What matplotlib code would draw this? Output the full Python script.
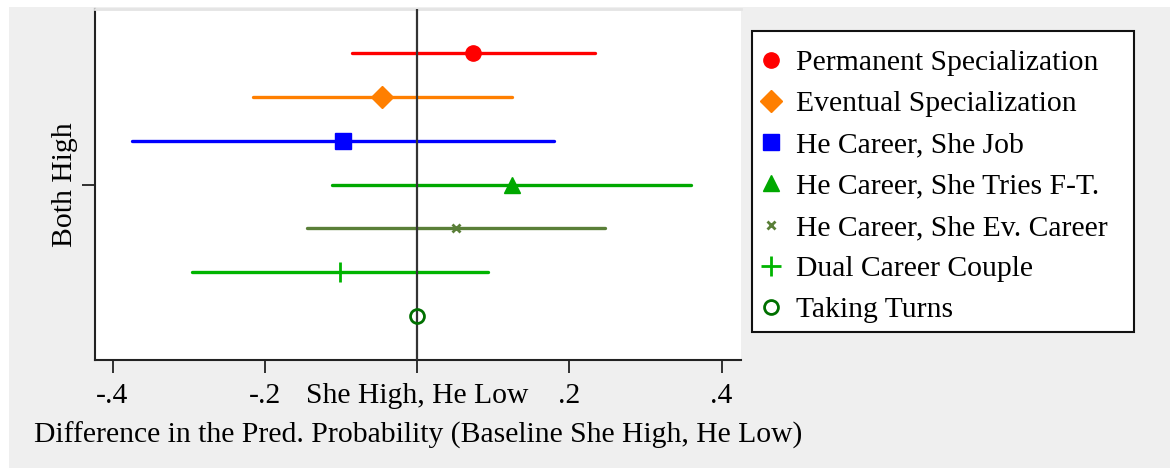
import matplotlib
matplotlib.use('Agg')
from matplotlib import pyplot as plt
from matplotlib.patches import Rectangle

plt.rcParams['font.family'] = ['Liberation Serif', 'DejaVu Serif']

# coefficient estimates and 95% intervals, relative to "She High, He Low"
labels = ['Permanent Specialization', 'Eventual Specialization',
          'He Career, She Job', 'He Career, She Tries F-T.',
          'He Career, She Ev. Career', 'Dual Career Couple', 'Taking Turns']
estimates = [0.0735, -0.046, -0.097, 0.125, 0.051, -0.101, 0.0]
ci_low = [-0.085, -0.215, -0.374, -0.112, -0.144, -0.295, None]
ci_high = [0.234, 0.125, 0.180, 0.360, 0.247, 0.093, None]

xticks = [-0.4, -0.2, 0.0, 0.2, 0.4]
xticklabels = ['-.4', '-.2', 'She High, He Low', '.2', '.4']

colors = ['#ff0000', '#ff7f00', '#0000ff', '#00a800', '#5a7f38', '#00b400', '#007000']
markers = ['o', 'D', 's', '^', 'x', '+', 'o']
msizes = [11, 11.5, 11, 12, 6, 14, 10]

FS = 21.3
W, H = 1170, 468

fig = plt.figure(figsize=(W / 100, H / 100), dpi=100)
fig.patch.set_facecolor('white')
fig.patches.append(Rectangle((9 / W, 0), 1 - 9 / W, 1 - 7 / H,
                             transform=fig.transFigure, facecolor='#efefef',
                             edgecolor='none', zorder=-10))

ax = fig.add_axes([95 / W, 1 - 360 / H, (741 - 95) / W, (360 - 9) / H])
ax.set_facecolor('white')

ypos = list(range(1, len(labels) + 1))
handles = []
for i, lab in enumerate(labels):
    y = ypos[i]
    if ci_low[i] is not None:
        ax.plot([ci_low[i], ci_high[i]], [y, y], color=colors[i], lw=2.4,
                solid_capstyle='round', zorder=2)
    if lab == 'Taking Turns':
        h, = ax.plot(estimates[i], y, marker='o', ms=msizes[i], mfc='none',
                     mec=colors[i], mew=2, ls='none', zorder=4, label=lab)
    elif markers[i] in ('x', '+'):
        h, = ax.plot(estimates[i], y, marker=markers[i], ms=msizes[i],
                     color=colors[i], mew=2, ls='none', zorder=4, label=lab)
    else:
        h, = ax.plot(estimates[i], y, marker=markers[i], ms=msizes[i],
                     color=colors[i], mec=colors[i], ls='none', zorder=4, label=lab)
    handles.append(h)

ax.axvline(0, color='#333333', lw=1.6, zorder=3)

ax.set_xlim(-0.423, 0.4255)
ax.set_ylim(8, 0)
ax.set_xticks(xticks)
ax.set_xticklabels(xticklabels, fontsize=FS)
ax.set_yticks([4])
ax.set_yticklabels(['Both High'], rotation=90, va='center', fontsize=FS)
ax.tick_params(axis='both', length=9.5, width=1.3, color='#222222')
ax.tick_params(axis='x', pad=7)
ax.tick_params(axis='y', pad=3)
ax.set_xlabel('Difference in the Pred. Probability (Baseline She High, He Low)',
              fontsize=FS, labelpad=9.5)

for side in ('left', 'bottom'):
    ax.spines[side].set_color('#222222')
    ax.spines[side].set_linewidth(1.5)
ax.spines['right'].set_visible(False)
ax.spines['top'].set_color('#e4e4e4')
ax.spines['top'].set_linewidth(2)

# legend box drawn separately so its padding can be set freely
fig.patches.append(Rectangle((752 / W, 1 - 332 / H), (1134 - 752) / W, (332 - 31) / H,
                             transform=fig.transFigure, facecolor='white',
                             edgecolor='#111111', lw=1.5, zorder=5))
leg = fig.legend(handles=handles, loc='upper left',
                 bbox_to_anchor=(756 / W, 1 - 49.5 / H), fontsize=FS,
                 frameon=False, handlelength=1.0, handletextpad=0.345,
                 labelspacing=0.49, borderpad=0, borderaxespad=0)
leg.set_zorder(6)

fig.savefig('out.png', dpi=100, facecolor=fig.get_facecolor())
